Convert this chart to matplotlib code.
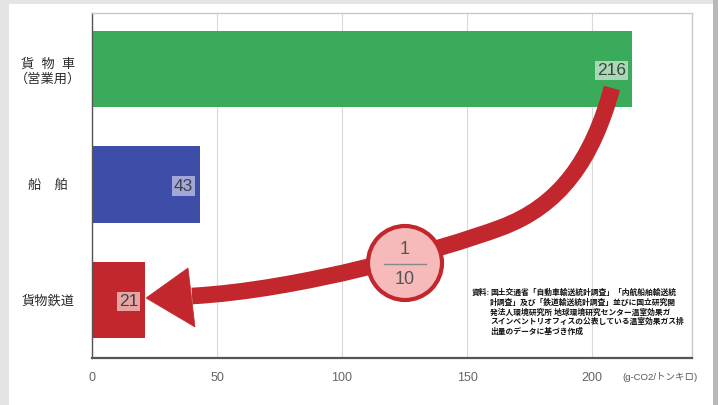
import numpy as np
import matplotlib
matplotlib.use("Agg")
import matplotlib.pyplot as plt
import matplotlib.transforms as mtrans
from matplotlib.patches import Rectangle, Circle, Polygon, PathPatch
from matplotlib.path import Path

# data
categories = ["貨  物  車\n（営業用）", "船　舶", "貨物鉄道"]
values = [216, 43, 21]
bar_colors = ["#3aab5a", "#3e4ea8", "#c1272d"]
box_colors = ["#a9d8b5", "#a3a7d8", "#e9a3a3"]
xticks = [0, 50, 100, 150, 200]
unit_label = "(g-CO2/トンキロ)"
ratio_num, ratio_den = "1", "10"
source_head = "資料:"
source_lines = [
    "国土交通省「自動車輸送統計調査」「内航船舶輸送統",
    "計調査」及び「鉄道輸送統計調査」並びに国立研究開",
    "発法人環境研究所 地球環境研究センター温室効果ガ",
    "スインベントリオフィスの公表している温室効果ガス排",
    "出量のデータに基づき作成",
]

plt.rcParams['font.family'] = ['Liberation Sans', 'Noto Sans CJK JP', 'DejaVu Sans']

W, H = 718, 405
fig = plt.figure(figsize=(W / 100, H / 100), dpi=100, facecolor="#e4e4e4")
# pixel (y down) -> figure transform, for the decoration
T = mtrans.Affine2D().scale(1 / W, -1 / H).translate(0, 1) + fig.transFigure

# white card + shadow
fig.patches.append(Rectangle((9, 4), 704, 405, transform=T, facecolor="white", edgecolor="none", zorder=-2))
fig.patches.append(Rectangle((713, 0), 5, 405, transform=T, facecolor="#b8b8b8", edgecolor="none", zorder=-2))

ax = fig.add_axes([92 / W, (H - 358) / H, (692 - 92) / W, (358 - 13) / H])
ax.set_facecolor("white")

ypos = np.arange(len(values))
ax.barh(ypos, values, height=0.66, color=bar_colors, zorder=2)

for y, v, bc in zip(ypos, values, box_colors):
    ax.annotate(str(v), (v, y), xytext=(-4.5, -1), textcoords="offset points",
                ha="right", va="center", fontsize=12.5, color="#3a4446", zorder=4,
                bbox=dict(boxstyle="square,pad=0.12", facecolor=bc, edgecolor="none"))

ax.set_xlim(0, 240)
ax.set_ylim(2.5, -0.485)
ax.set_xticks(xticks)
ax.set_xticklabels([str(t) for t in xticks], color="#666666", fontsize=9)
ax.set_yticks(ypos)
ax.set_yticklabels(categories, fontsize=9.5, color="#2b2b2b", ha="center", linespacing=1.3)
ax.tick_params(axis="y", length=0, pad=31.5)
ax.tick_params(axis="x", length=0, pad=10)
ax.grid(axis="x", color="#d9d9d9", lw=0.8, zorder=1)
ax.set_axisbelow(True)

ax.spines["left"].set_color("#555555")
ax.spines["left"].set_linewidth(1.0)
ax.spines["bottom"].set_color("#555555")
ax.spines["bottom"].set_linewidth(1.6)
for s in ["top", "right"]:
    ax.spines[s].set_color("#cfc6c6")
    ax.spines[s].set_linewidth(1.0)

fig.text(660 / W, 1 - 377 / H, unit_label, ha="center", va="center", fontsize=6.8, color="#555555")

# curved arrow from the truck bar to the rail bar
verts = [(612, 88), (592, 160), (560, 206), (500, 228),
         (440, 250), (300, 290), (192, 296)]
codes = [Path.MOVETO] + [Path.CURVE4] * 6
shaft = PathPatch(Path(verts, codes), transform=T, facecolor="none",
                  edgecolor="#c1272d", lw=12, capstyle="butt", zorder=5)
fig.patches.append(shaft)
head = Polygon([(146, 298), (188, 268), (195, 327)], closed=True, transform=T,
               facecolor="#c1272d", edgecolor="#c1272d", lw=0.5, zorder=6)
fig.patches.append(head)

# 1/10 badge
badge = Circle((405, 263), 37, transform=T, facecolor="#f6baba", edgecolor="#c1272d", lw=3, zorder=7)
fig.patches.append(badge)
fig.lines.append(plt.Line2D([384, 426], [264, 264], transform=T, color="#888888", lw=1.0, zorder=8))
fig.text(405 / W, 1 - 250 / H, ratio_num, ha="center", va="center", fontsize=13, color="#555555", zorder=9)
fig.text(405 / W, 1 - 279 / H, ratio_den, ha="center", va="center", fontsize=13, color="#555555", zorder=9)

# source note
fig.text(490 / W, 1 - 293 / H, source_head, ha="right", va="center", fontsize=5.6,
         fontweight="bold", color="#111111", zorder=9)
for i, line in enumerate(source_lines):
    fig.text(490 / W, 1 - (293 + 9.8 * i) / H, line, ha="left", va="center", fontsize=5.6,
             fontweight="bold", color="#111111", zorder=9)

fig.savefig("out.png", dpi=100, facecolor=fig.get_facecolor())
